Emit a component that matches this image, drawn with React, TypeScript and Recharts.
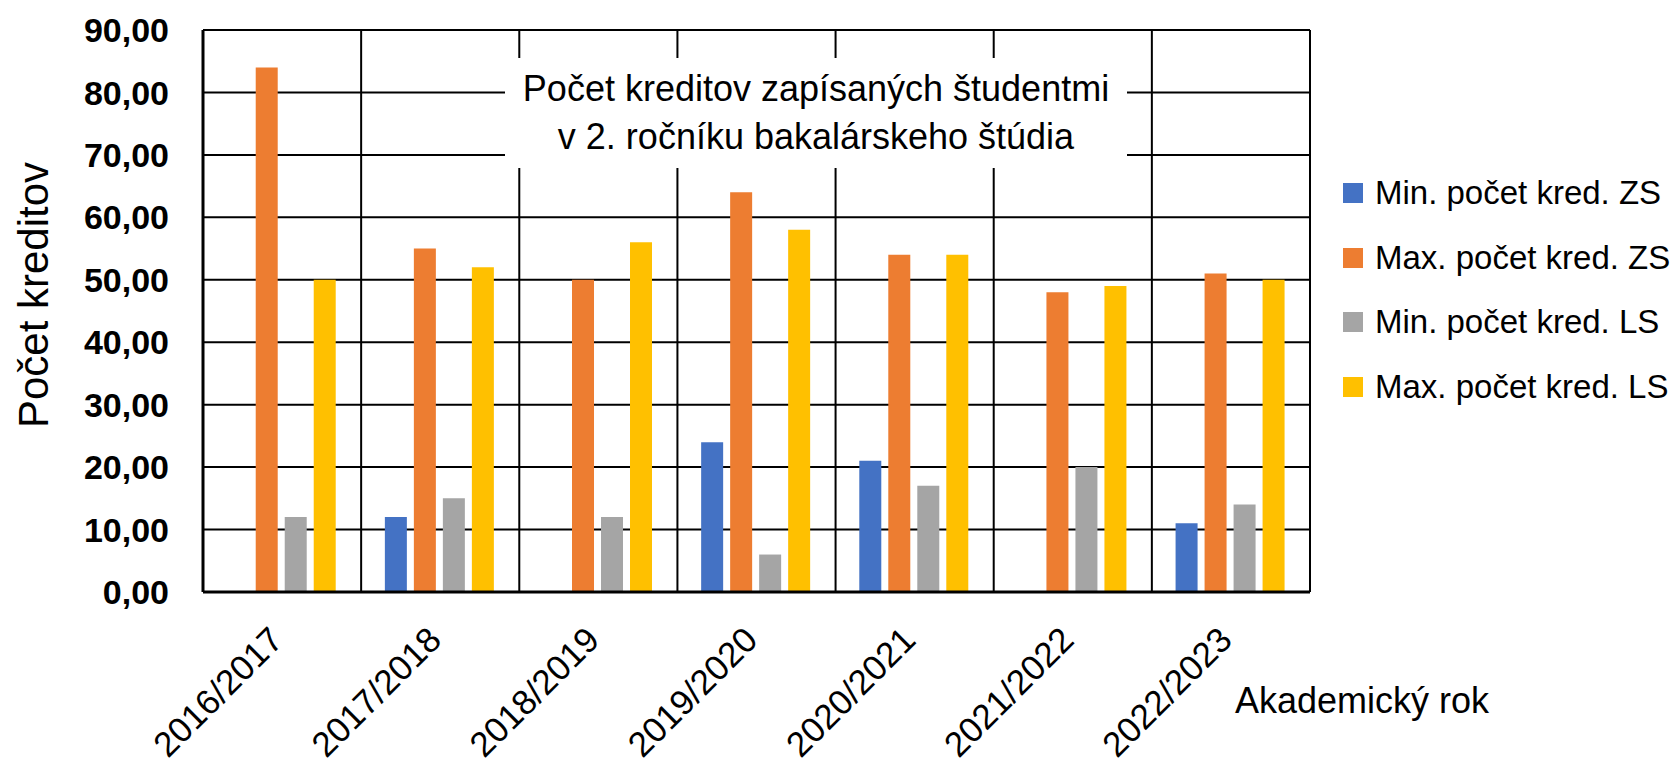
import { BarChart, Bar, XAxis, YAxis, CartesianGrid } from 'recharts';

const years = ['2016/2017', '2017/2018', '2018/2019', '2019/2020', '2020/2021', '2021/2022', '2022/2023'];
const minZS = [null, 12, null, 24, 21, null, 11];
const maxZS = [84, 55, 50, 64, 54, 48, 51];
const minLS = [12, 15, 12, 6, 17, 20, 14];
const maxLS = [50, 52, 56, 58, 54, 49, 50];
const yTicks = [0, 10, 20, 30, 40, 50, 60, 70, 80, 90];

const series = [
  { key: 'minZS', name: 'Min. počet kred. ZS', color: '#4472C4' },
  { key: 'maxZS', name: 'Max. počet kred. ZS', color: '#ED7D31' },
  { key: 'minLS', name: 'Min. počet kred. LS', color: '#A5A5A5' },
  { key: 'maxLS', name: 'Max. počet kred. LS', color: '#FFC000' },
];

const data = years.map((year, i) => ({
  year,
  minZS: minZS[i],
  maxZS: maxZS[i],
  minLS: minLS[i],
  maxLS: maxLS[i],
}));

const FONT = '"Liberation Sans", Arial, sans-serif';

function XTick({ x, y, payload }: any) {
  const px = x + 3;
  const py = y + 48;
  return (
    <text x={px} y={py} transform={`rotate(-45, ${px}, ${py})`} textAnchor="end"
      fontSize={35} fontFamily={FONT} fill="#000">
      {payload.value}
    </text>
  );
}

function YLabel() {
  return (
    <text x={48} y={295} transform="rotate(-90, 48, 295)" textAnchor="middle"
      fontSize={42} fontFamily={FONT} fill="#000">
      Počet kreditov
    </text>
  );
}

function SideLegend() {
  return (
    <div style={{ position: 'absolute', left: 1343, top: 161, fontFamily: FONT, fontSize: 33, color: '#000' }}>
      {series.map((s) => (
        <div key={s.key} style={{ display: 'flex', alignItems: 'center', height: 64.5 }}>
          <span style={{ width: 20, height: 20, background: s.color, marginRight: 12, display: 'inline-block' }} />
          <span style={{ whiteSpace: 'nowrap' }}>{s.name}</span>
        </div>
      ))}
    </div>
  );
}

export default function App() {
  return (
    <div style={{ position: 'relative', width: 1674, height: 771, background: '#fff' }}>
      <style>{'body{margin:0}'}</style>
      <BarChart width={1674} height={771} data={data}
        margin={{ top: 30, right: 364, bottom: 0, left: 0 }}
        barCategoryGap="15%" barGap={7}>
        <CartesianGrid stroke="#000" strokeWidth={2}
          verticalCoordinatesGenerator={({ offset }: any) =>
            years.map((_, i) => offset.left + ((i + 1) * offset.width) / years.length)} />
        <XAxis dataKey="year" height={179} interval={0} tickLine={false}
          axisLine={{ stroke: '#000', strokeWidth: 3 }} tick={<XTick />} tickSize={0} />
        <YAxis width={203} domain={[0, 90]} ticks={yTicks} interval={0} tickLine={false}
          tickSize={0} tickMargin={34}
          axisLine={{ stroke: '#000', strokeWidth: 3 }}
          tickFormatter={(v: number) => v.toFixed(2).replace('.', ',')}
          tick={{ fontSize: 34, fontFamily: FONT, fontWeight: 'bold', fill: '#000' }}
          label={<YLabel />} />
        {series.map((s) => (
          <Bar key={s.key} dataKey={s.key} name={s.name} fill={s.color} isAnimationActive={false} />
        ))}
      </BarChart>
      <SideLegend />
      <div style={{
        position: 'absolute', left: 505, top: 58, width: 622, height: 110, background: '#fff',
        fontFamily: FONT, fontSize: 36, lineHeight: '48px', textAlign: 'center', color: '#000',
        display: 'flex', flexDirection: 'column', justifyContent: 'center', whiteSpace: 'nowrap',
      }}>
        <div>Počet kreditov zapísaných študentmi</div>
        <div>v 2. ročníku bakalárskeho štúdia</div>
      </div>
      <div style={{
        position: 'absolute', left: 1235, top: 683, fontFamily: FONT, fontSize: 36,
        lineHeight: '36px', color: '#000', whiteSpace: 'nowrap',
      }}>
        Akademický rok
      </div>
    </div>
  );
}
